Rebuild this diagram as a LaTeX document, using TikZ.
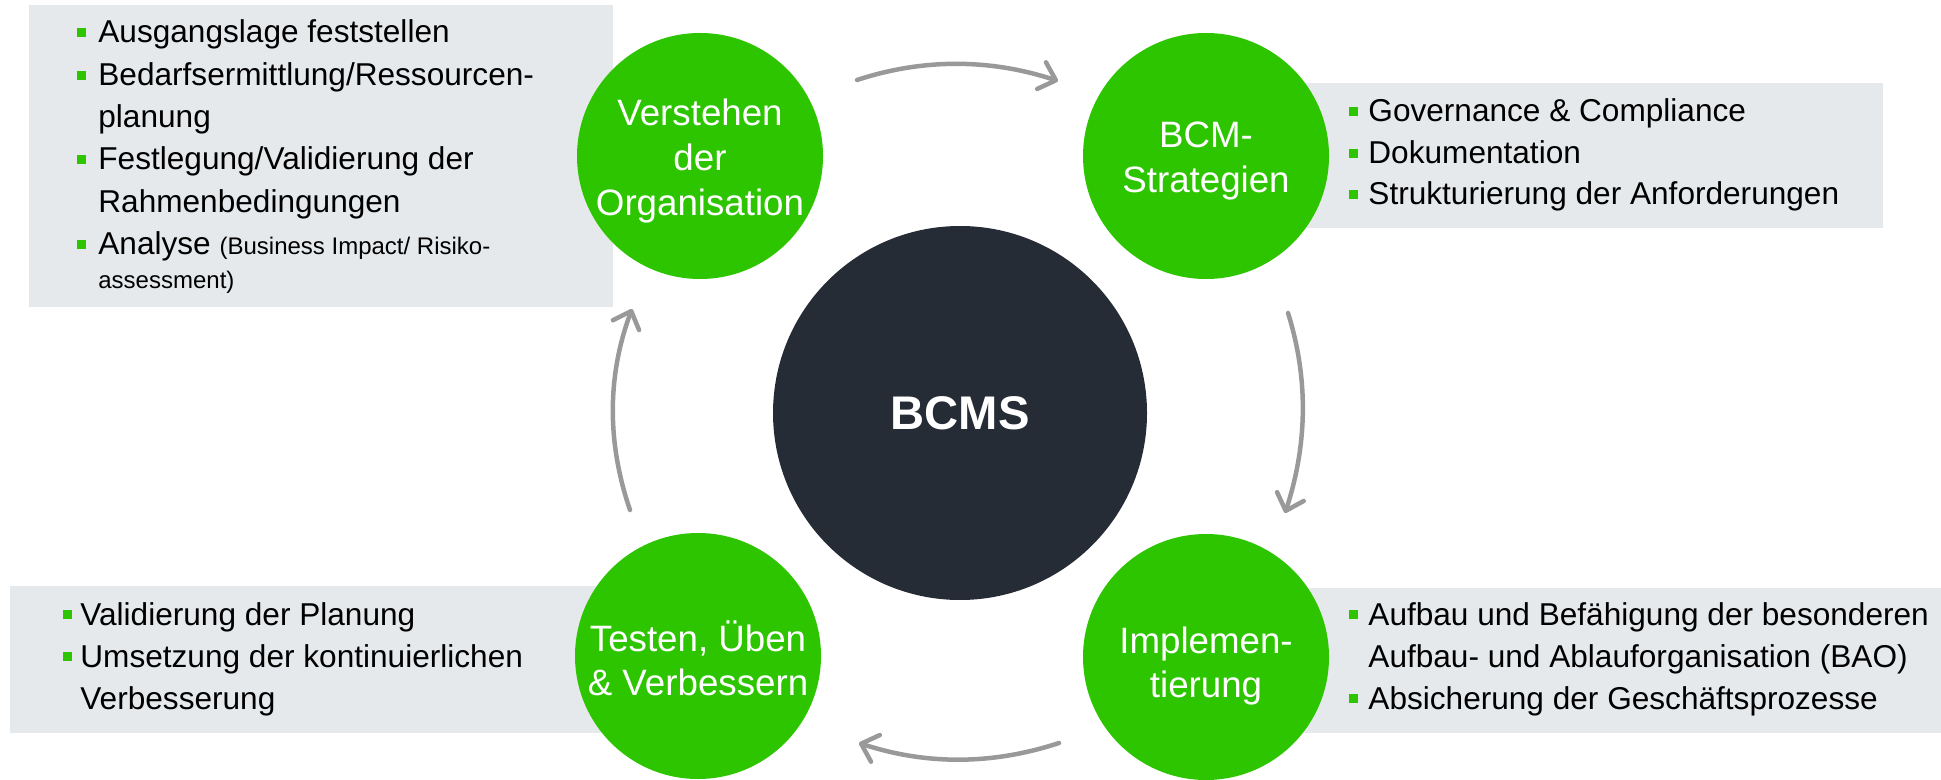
\documentclass[tikz,border=0pt]{standalone}
\usepackage{fontspec}
\setmainfont{Liberation Sans}
\usetikzlibrary{arrows.meta}
\definecolor{bgreen}{HTML}{2DC500}
\definecolor{boxgray}{HTML}{E6E9EC}
\definecolor{darkc}{HTML}{262C35}
\definecolor{arrgray}{HTML}{999999}
\tikzset{
  infobox/.style={fill=boxgray},
  gcirc/.style={circle, fill=bgreen, inner sep=0pt, minimum size=123pt},
  dcirc/.style={circle, fill=darkc, inner sep=0pt, minimum size=187pt, text=white, font=\bfseries\fontsize{23.6}{28}\selectfont},
  ctext/.style={anchor=base, text=white, inner sep=0pt, font=\fontsize{18.35}{22}\selectfont},
  btext/.style={anchor=base west, inner sep=0pt, font=\fontsize{15.8}{19}\selectfont},
  stext/.style={anchor=base west, inner sep=0pt, font=\fontsize{12}{14}\selectfont},
  cyc/.style={draw=arrgray, line width=2.25pt, line cap=round, -{Straight Barb[length=7.5pt,width=14pt,round]}},
  bulletsq/.pic={\fill[bgreen] (0,-15) rectangle (9,-6);}
}
\begin{document}
\begin{tikzpicture}[x=0.5pt,y=-0.5pt]
\useasboundingbox (0,0) rectangle (1941,780);
% info boxes
\fill[infobox] (29,5) rectangle (613,307);
\fill[infobox] (1206,83) rectangle (1883,228);
\fill[infobox] (10,586) rectangle (697,733);
\fill[infobox] (1206,588) rectangle (1941,733);
% circles
\node[gcirc] (verst) at (700,156) {};
\node[gcirc] (strat) at (1206,156) {};
\node[gcirc] (test) at (698,656) {};
\node[gcirc] (impl) at (1206,657) {};
\node[dcirc] (bcms) at (960,413) {BCMS};
% circle labels
\node[ctext] (v1) at (700,126) {Verstehen};
\node[ctext] (v2) at (700,171) {der};
\node[ctext] (v3) at (700,216) {Organisation};
\node[ctext] (s1) at (1206,148) {BCM-};
\node[ctext] (s2) at (1206,193) {Strategien};
\node[ctext] (t1) at (698,651) {Testen, Üben};
\node[ctext] (t2) at (698,695) {\&~Verbessern};
\node[ctext] (i1) at (1206,653) {Implemen-};
\node[ctext] (i2) at (1206,697) {tierung};
% top-left list
\pic at (77,43) {bulletsq};
\node[btext] (tl1) at (98,43) {Ausgangslage feststellen};
\pic at (77,86) {bulletsq};
\node[btext] (tl2) at (98,86) {Bedarfsermittlung/Ressourcen-};
\node[btext] (tl3) at (98,128) {planung};
\pic at (77,170) {bulletsq};
\node[btext] (tl4) at (98,170) {Festlegung/Validierung der};
\node[btext] (tl5) at (98,213) {Rahmenbedingungen};
\pic at (77,255) {bulletsq};
\node[btext] (tl6) at (98,255) {Analyse {\fontsize{12}{14}\selectfont(Business Impact/ Risiko-}};
\node[stext] (tl7) at (98,289) {assessment)};
% top-right list
\pic at (1349,122) {bulletsq};
\node[btext] (tr1) at (1368,122) {Governance \& Compliance};
\pic at (1349,164) {bulletsq};
\node[btext] (tr2) at (1368,164) {Dokumentation};
\pic at (1349,205) {bulletsq};
\node[btext] (tr3) at (1368,205) {Strukturierung der Anforderungen};
% bottom-left list
\pic at (63,625) {bulletsq};
\node[btext] (bl1) at (80,625) {Validierung der Planung};
\pic at (63,667) {bulletsq};
\node[btext] (bl2) at (80,667) {Umsetzung der kontinuierlichen};
\node[btext] (bl3) at (80,709) {Verbesserung};
% bottom-right list
\pic at (1349,625) {bulletsq};
\node[btext] (br1) at (1368,625) {Aufbau und Befähigung der besonderen};
\node[btext] (br2) at (1368,667) {Aufbau- und Ablauforganisation (BAO)};
\pic at (1349,709) {bulletsq};
\node[btext] (br3) at (1368,709) {Absicherung der Geschäftsprozesse};
% cycle arrows
\coordinate (a1s) at (857,80);
\coordinate (a1e) at (1058,81);
\coordinate (a2s) at (1288,313);
\coordinate (a2e) at (1285,513);
\coordinate (a3s) at (1059,743);
\coordinate (a3e) at (859,743);
\coordinate (a4s) at (630,510);
\coordinate (a4e) at (632,309);
\draw[cyc] (a1s) .. controls (924,58) and (991,59) .. (a1e);
\draw[cyc] (a2s) .. controls (1309,380) and (1307,446) .. (a2e);
\draw[cyc] (a3s) .. controls (992,765) and (926,765) .. (a3e);
\draw[cyc] (a4s) .. controls (607,443) and (607,376) .. (a4e);
\end{tikzpicture}
\end{document}
